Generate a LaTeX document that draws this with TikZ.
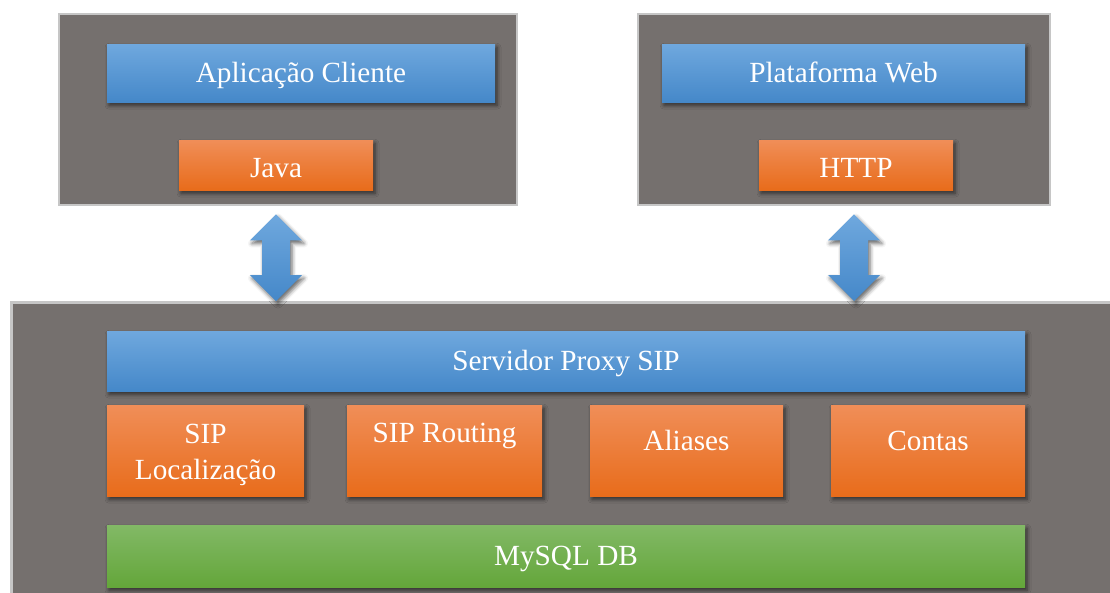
\documentclass[tikz,border=0pt]{standalone}
\usepackage{fontspec}
\setmainfont{Liberation Serif}
\usetikzlibrary{calc,shadows.blur}

\definecolor{tiergray}{HTML}{75706E}
\definecolor{tierline}{HTML}{C6C6C6}
\definecolor{bluetop}{HTML}{6FA8DE}
\definecolor{bluebot}{HTML}{4588C9}
\definecolor{orangetop}{HTML}{F08E58}
\definecolor{orangemid}{HTML}{F57F2C}
\definecolor{orangebot}{HTML}{E86C1B}
\definecolor{greentop}{HTML}{82B966}
\definecolor{greenbot}{HTML}{64A63A}

\tikzset{
  tier/.style={draw=tierline, line width=1.8pt, fill=tiergray},
  softshadow/.style={blur shadow={shadow xshift=0.05cm, shadow yshift=-0.08cm,
      shadow blur radius=0.1cm, shadow opacity=60}},
  bar/.style={softshadow, inner sep=0pt, text=white,
      font=\fontsize{20.8}{25.6}\selectfont, align=center},
  layer/.style={bar, top color=bluetop, bottom color=bluebot, text height=0.6cm, text depth=0.15cm},
  module/.style={bar, top color=orangetop, middle color=orangemid, bottom color=orangebot},
  store/.style={bar, top color=greentop, bottom color=greenbot, text height=0.6cm, text depth=0.15cm},
  linkarrow/.style={softshadow, top color=bluetop, bottom color=bluebot}
}

\begin{document}
\begin{tikzpicture}[x=1cm,y=1cm]
\useasboundingbox (0,0) rectangle (27.75,-14.8);
\clip (0,0) rectangle (27.75,-14.8);

% client side
\node[tier, minimum width=11.45cm, minimum height=4.775cm] (client) at (7.2,-2.7375) {};
\node[layer, minimum width=9.7cm, minimum height=1.45cm] (app) at (7.525,-1.825) {Aplicação Cliente};
\node[module, minimum width=4.85cm, minimum height=1.25cm, text height=0.6cm, text depth=0cm] (java) at (6.9,-4.125) {Java};

% web side
\node[tier, minimum width=10.3cm, minimum height=4.775cm] (web) at (21.1,-2.7375) {};
\node[layer, minimum width=9.075cm, minimum height=1.45cm] (webapp) at (21.0875,-1.825) {Plataforma Web};
\node[module, minimum width=4.85cm, minimum height=1.25cm, text height=0.6cm, text depth=0cm] (http) at (21.4,-4.125) {HTTP};

% server
\node[tier, minimum width=28.5cm, minimum height=8cm, anchor=north west] (server) at (0.25,-7.525) {};
\node[layer, minimum width=22.95cm, minimum height=1.5cm] (proxy) at (14.15,-9.025) {Servidor Proxy SIP};
\node[module, minimum width=4.925cm, minimum height=2.275cm, text height=1.625cm, text depth=0.2cm] (loc) at (5.1375,-11.2625) {SIP\\Localização};
\node[module, minimum width=4.875cm, minimum height=2.275cm, text height=0.6cm, text depth=0.98cm] (routing) at (11.1125,-11.2625) {SIP Routing};
\node[module, minimum width=4.825cm, minimum height=2.275cm, text height=0.6cm, text depth=0.6cm] (aliases) at (17.1625,-11.2625) {Aliases};
\node[module, minimum width=4.85cm, minimum height=2.275cm, text height=0.6cm, text depth=0.6cm] (contas) at (23.2,-11.2625) {Contas};
\node[store, minimum width=22.95cm, minimum height=1.55cm] (mysql) at (14.15,-13.9) {MySQL DB};

% two-way links
\coordinate (la) at ($(java.south |- client.south)+(0,-0.2)$);
\coordinate (lb) at (java.south |- server.north);
\path[linkarrow] (la) -- ++(0.65,-0.65) -- ++(-0.3,0) -- ($(lb)+(0.35,0.65)$) -- ++(0.3,0)
  -- (lb) -- ++(-0.65,0.65) -- ++(0.3,0) -- ($(la)+(-0.35,-0.65)$) -- ++(-0.3,0) -- cycle;

\coordinate (ra) at ($(http.south |- web.south)+(-0.05,-0.2)$);
\coordinate (rb) at ($(http.south |- server.north)+(-0.05,0)$);
\path[linkarrow] (ra) -- ++(0.65,-0.65) -- ++(-0.3,0) -- ($(rb)+(0.35,0.65)$) -- ++(0.3,0)
  -- (rb) -- ++(-0.65,0.65) -- ++(0.3,0) -- ($(ra)+(-0.35,-0.65)$) -- ++(-0.3,0) -- cycle;
\end{tikzpicture}
\end{document}
